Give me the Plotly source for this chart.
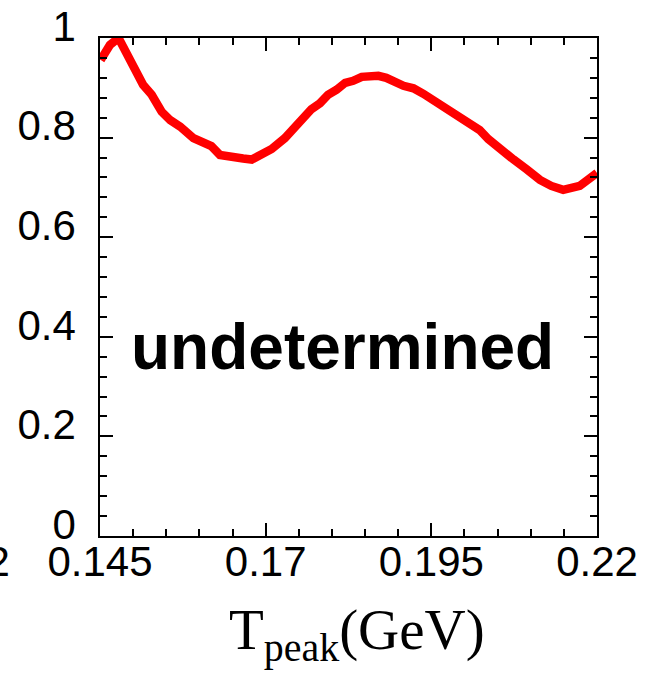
import plotly.graph_objects as go

# Curve data
t_peak = [0.1451, 0.1465, 0.1478, 0.1500, 0.1515, 0.1528, 0.1543, 0.1556, 0.1571,
          0.1591, 0.1606, 0.1618, 0.1631, 0.1654, 0.1666, 0.1679, 0.1691, 0.1709,
          0.1729, 0.1752, 0.1769, 0.1782, 0.1794, 0.1807, 0.1820, 0.1832, 0.1845,
          0.1870, 0.1882, 0.1908, 0.1923, 0.1938, 0.1958, 0.1970, 0.1988, 0.2003,
          0.2023, 0.2036, 0.2054, 0.2074, 0.2094, 0.2114, 0.2131, 0.2149, 0.2174,
          0.2196, 0.2200]
ratio = [0.956, 0.986, 1.000, 0.949, 0.906, 0.886, 0.852, 0.835, 0.822,
         0.799, 0.789, 0.783, 0.765, 0.763, 0.758, 0.756, 0.765, 0.777,
         0.799, 0.832, 0.857, 0.869, 0.886, 0.896, 0.910, 0.914, 0.922,
         0.924, 0.920, 0.904, 0.899, 0.888, 0.870, 0.861, 0.843, 0.832,
         0.815, 0.797, 0.780, 0.756, 0.736, 0.715, 0.703, 0.695, 0.703,
         0.725, 0.729]

x_tickvals = [0.145, 0.17, 0.195, 0.22]
x_ticktext = ["0.145", "0.17", "0.195", "0.22"]
y_tickvals = [0, 0.2, 0.4, 0.6, 0.8, 1.0]
y_ticktext = ["0", "0.2", "0.4", "0.6", "0.8", "1"]

fig = go.Figure()
fig.add_trace(go.Scatter(x=t_peak, y=ratio, mode="lines",
                         line=dict(color="#ff0000", width=8.5), showlegend=False))

axis_common = dict(showgrid=False, zeroline=False, showline=True, linecolor="black",
                   linewidth=1.5, ticks="inside", ticklen=13, tickwidth=1.5,
                   tickcolor="black", mirror="allticks", automargin=False,
                   tickfont=dict(family="Liberation Sans, Arial", size=42, color="black"))

fig.update_xaxes(range=[0.145, 0.22], tickvals=x_tickvals, ticktext=x_ticktext,
                 minor=dict(dtick=0.005, tick0=0.145, ticks="inside", ticklen=7,
                            tickwidth=1.5, tickcolor="black"),
                 ticklabelstandoff=-12, **axis_common)
fig.update_yaxes(range=[0, 1], tickvals=y_tickvals, ticktext=y_ticktext,
                 minor=dict(dtick=0.04, tick0=0, ticks="inside", ticklen=7,
                            tickwidth=1.5, tickcolor="black"),
                 ticklabelstandoff=14, ticklabelshift=-12, **axis_common)

fig.add_annotation(x=0.1816, y=0.38, xref="x", yref="y", text="<b>undetermined</b>",
                   showarrow=False, xanchor="center", yanchor="middle",
                   font=dict(family="Liberation Sans, Arial", size=64, color="black"))
fig.add_annotation(x=0.517, y=-0.12, xref="paper", yref="paper",
                   text="T<sub>peak</sub>(GeV)", showarrow=False,
                   xanchor="center", yanchor="top",
                   font=dict(family="Liberation Serif, Times New Roman", size=57, color="black"))
# partial tick label from neighbouring panel at the far left edge
fig.add_annotation(x=(12 - 100) / 497, y=0.0, xref="paper", yref="paper",
                   text="0.22", showarrow=False, xanchor="right", yanchor="top",
                   font=dict(family="Liberation Sans, Arial", size=42, color="black"))

fig.update_layout(width=650, height=674, margin=dict(l=100, r=53, t=38, b=138),
                  paper_bgcolor="white", plot_bgcolor="white")

fig.write_html("out.html", config={"displayModeBar": False},
               post_script="document.body.style.margin='0';document.body.style.overflow='hidden';")
